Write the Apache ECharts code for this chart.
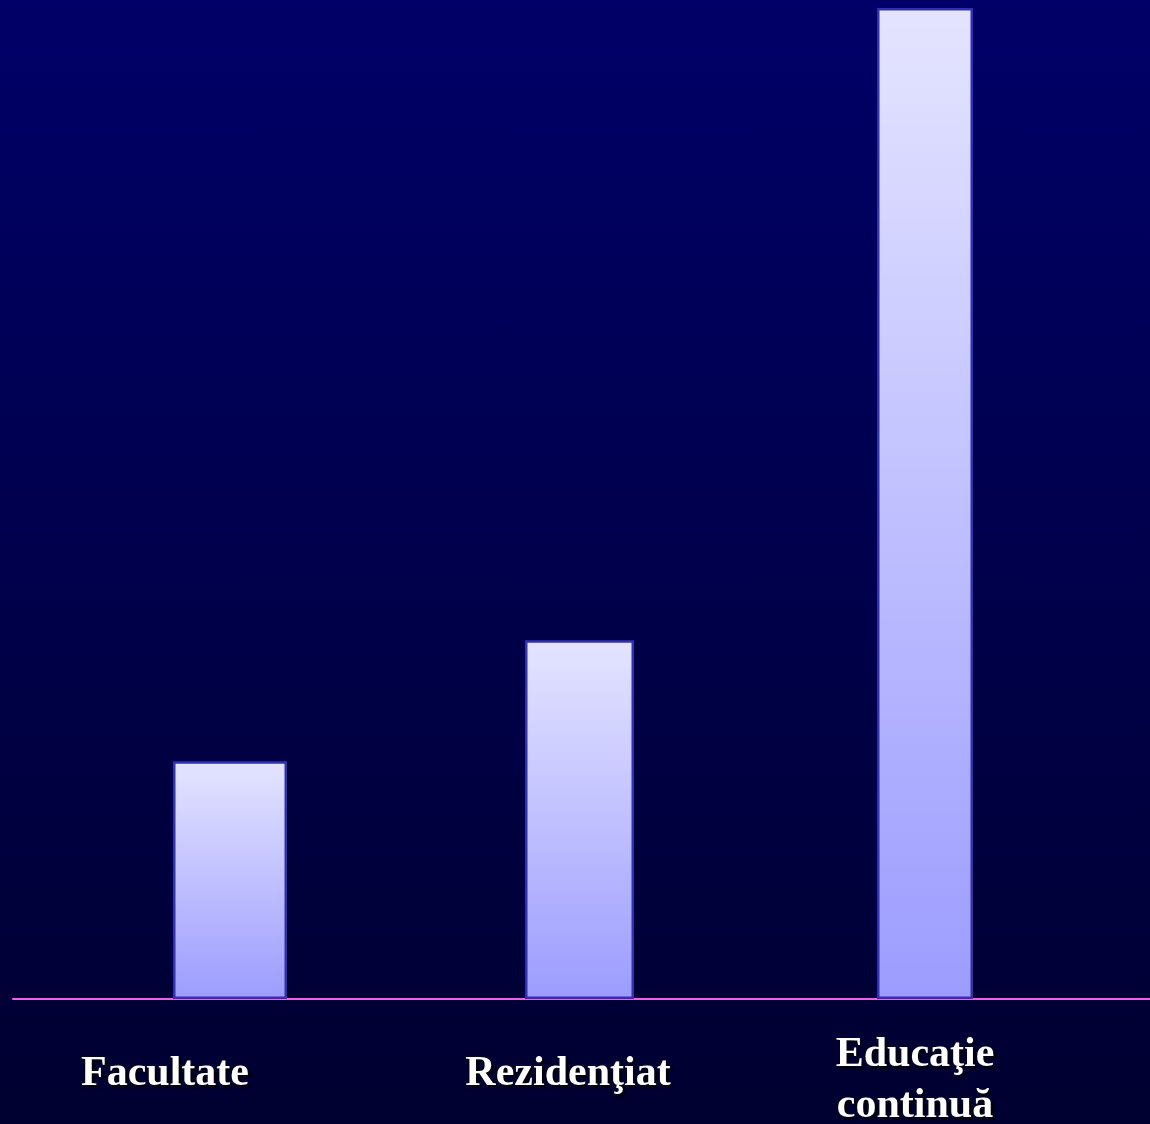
<!DOCTYPE html>
<html>
<head>
<meta charset="utf-8">
<script src="https://cdn.jsdelivr.net/npm/echarts@6/dist/echarts.min.js"></script>
<style>
html,body{margin:0;padding:0;}
body{background:linear-gradient(to bottom,#000068 0%,#00004c 50%,#000030 100%);}
#chart{width:1150px;height:1124px;}
</style>
</head>
<body>
<div id="chart"></div>
<script>
const categories = ['Facultate', 'Rezidenţiat', 'Educaţie\ncontinuă'];
const values = [24, 36.2, 100];

const chart = echarts.init(document.getElementById('chart'), null, {renderer: 'canvas'});

const barFill = {
  type: 'linear', x: 0, y: 0, x2: 0, y2: 1,
  colorStops: [{offset: 0, color: '#e4e4ff'}, {offset: 1, color: '#9c9cff'}]
};
const barWidths = [114, 109, 96];
const labelKeys = ['a', 'b', 'c'];

function seriesFor(i) {
  return {
    type: 'bar',
    xAxisIndex: 0, yAxisIndex: 0,
    barWidth: barWidths[i],
    barGap: '-100%',
    data: values.map((v, j) => (j === i ? v : '-')),
    itemStyle: {color: barFill, borderColor: '#3030b0', borderWidth: 2.5},
    emphasis: {disabled: true},
    silent: true
  };
}

const baseText = {
  color: '#ffffff', fontFamily: '"Liberation Serif","Times New Roman",serif',
  fontWeight: 'bold', fontSize: 42, lineHeight: 50,
  textShadowColor: 'rgba(0,0,0,0.9)', textShadowOffsetX: 3, textShadowOffsetY: 3, textShadowBlur: 2
};

const option = {
  backgroundColor: 'transparent',
  animation: false,
  grid: [
    {left: 45, right: 49, top: 8, bottom: 125, containLabel: false, outerBoundsMode: 'none'},
    {left: 13, right: 0, top: 8, bottom: 125, containLabel: false, outerBoundsMode: 'none'}
  ],
  xAxis: [
    {
      type: 'category', gridIndex: 0, data: categories,
      axisLine: {show: false}, axisTick: {show: false}, splitLine: {show: false},
      axisLabel: {
        interval: 0, margin: 75, verticalAlign: 'middle',
        formatter: function (val, idx) {
          return val.split('\n').map(s => '{' + labelKeys[idx] + '|' + s + '}').join('\n');
        },
        rich: {
          a: Object.assign({}, baseText, {padding: [0, 112, 0, 0]}),
          b: Object.assign({}, baseText, {padding: [0, 10, 0, 0]}),
          c: Object.assign({}, baseText, {lineHeight: 51, padding: [14, 20, 0, 0]})
        }
      }
    },
    {
      type: 'category', gridIndex: 1, data: categories,
      axisLine: {show: true, lineStyle: {color: '#f060e8', width: 2}},
      axisTick: {show: false}, axisLabel: {show: false}, splitLine: {show: false}
    }
  ],
  yAxis: [
    {type: 'value', gridIndex: 0, min: 0, max: 100, show: false, splitLine: {show: false}},
    {type: 'value', gridIndex: 1, min: 0, max: 100, show: false, splitLine: {show: false}}
  ],
  series: [seriesFor(0), seriesFor(1), seriesFor(2)]
};
chart.setOption(option);
</script>
</body>
</html>
